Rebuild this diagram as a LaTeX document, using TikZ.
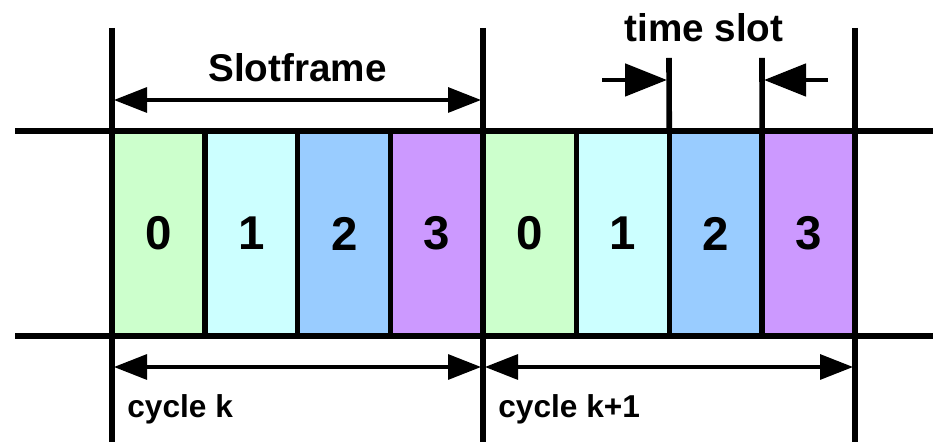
\documentclass[tikz,border=0pt]{standalone}
\usepackage{fontspec}
\setmainfont{Liberation Sans}
\usetikzlibrary{arrows.meta}
\definecolor{slotgreen}{HTML}{CCFFCC}
\definecolor{slotcyan}{HTML}{CCFFFF}
\definecolor{slotblue}{HTML}{99CCFF}
\definecolor{slotpurple}{HTML}{CC99FF}
\tikzset{
  slotbox/.style={draw=black, line width=3.1pt, minimum width=1.8575cm, minimum height=4.1cm,
    inner sep=0pt, outer sep=0pt, font=\fontsize{27}{30}\selectfont\bfseries},
  frameline/.style={draw=black, line width=3.2pt},
  spanarrow/.style={draw=black, line width=1.8pt,
    {Triangle[length=0.66cm,width=0.5cm]}-{Triangle[length=0.66cm,width=0.5cm]}},
  slotarrow/.style={draw=black, line width=2.8pt, -{Triangle[length=0.84cm,width=0.64cm]}},
  toptext/.style={font=\fontsize{22}{26}\selectfont\bfseries, inner sep=0pt, anchor=base},
  cycletext/.style={font=\fontsize{18}{22}\selectfont\bfseries, inner sep=0pt, anchor=base west}
}
\begin{document}
\begin{tikzpicture}
            \useasboundingbox (0,0) rectangle (18.66,8.84);
            % Slots of cycle k
            \node[slotbox, fill=slotgreen] (s0) at (3.169,4.17) {0};
            \node[slotbox, fill=slotcyan] (s1) at (5.026,4.17) {1};
            \node[slotbox, fill=slotblue] (s2) at (6.884,4.17) {2};
            \node[slotbox, fill=slotpurple] (s3) at (8.741,4.17) {3};
            % Slots of cycle k+1
            \node[slotbox, fill=slotgreen] (s4) at (10.599,4.17) {0};
            \node[slotbox, fill=slotcyan] (s5) at (12.456,4.17) {1};
            \node[slotbox, fill=slotblue] (s6) at (14.314,4.17) {2};
            \node[slotbox, fill=slotpurple] (s7) at (16.171,4.17) {3};
            % Horizontal lines
            \coordinate (topl) at (0.30,6.22);
            \coordinate (topr) at (18.66,6.22);
            \coordinate (botl) at (0.30,2.12);
            \coordinate (botr) at (18.66,2.12);
            \draw[frameline] (topl) -- (topr);
            \draw[frameline] (botl) -- (botr);
            % Frame boundaries
            \coordinate (fa) at (2.24,8.28);
            \coordinate (fb) at (9.66,8.28);
            \coordinate (fc) at (17.10,8.28);
            \coordinate (fa0) at (2.24,0);
            \coordinate (fb0) at (9.66,0);
            \coordinate (fc0) at (17.10,0);
            \draw[frameline] (fa) -- (fa0);
            \draw[frameline] (fb) -- (fb0);
            \draw[frameline] (fc) -- (fc0);
            % Time slot markers
            \coordinate (mk1) at (13.38,7.68);
            \coordinate (mk2) at (15.24,7.68);
            \draw[frameline] (mk1) -- (s5.north east);
            \draw[frameline] (mk2) -- (s6.north east);
            % Slotframe span
            \coordinate (sfl) at (2.28,6.84);
            \coordinate (sfr) at (9.62,6.84);
            \draw[spanarrow] (sfl) -- (sfr);
            \node[toptext] (sf) at (5.95,7.20) {Slotframe};
            % Time slot pointers
            \coordinate (tsl) at (12.04,7.24);
            \coordinate (tsla) at (13.34,7.24);
            \coordinate (tsr) at (16.56,7.24);
            \coordinate (tsra) at (15.28,7.24);
            \draw[slotarrow] (tsl) -- (tsla);
            \draw[slotarrow] (tsr) -- (tsra);
            \node[toptext] (ts) at (14.08,8.0) {time slot};
            % Cycle spans
            \coordinate (cal) at (2.28,1.50);
            \coordinate (car) at (9.62,1.50);
            \coordinate (cbl) at (9.70,1.50);
            \coordinate (cbr) at (17.06,1.50);
            \draw[spanarrow] (cal) -- (car);
            \draw[spanarrow] (cbl) -- (cbr);
            \node[cycletext] (ck) at (2.54,0.48) {cycle k};
            \node[cycletext] (ck1) at (9.96,0.48) {cycle k+1};
\end{tikzpicture}
\end{document}
